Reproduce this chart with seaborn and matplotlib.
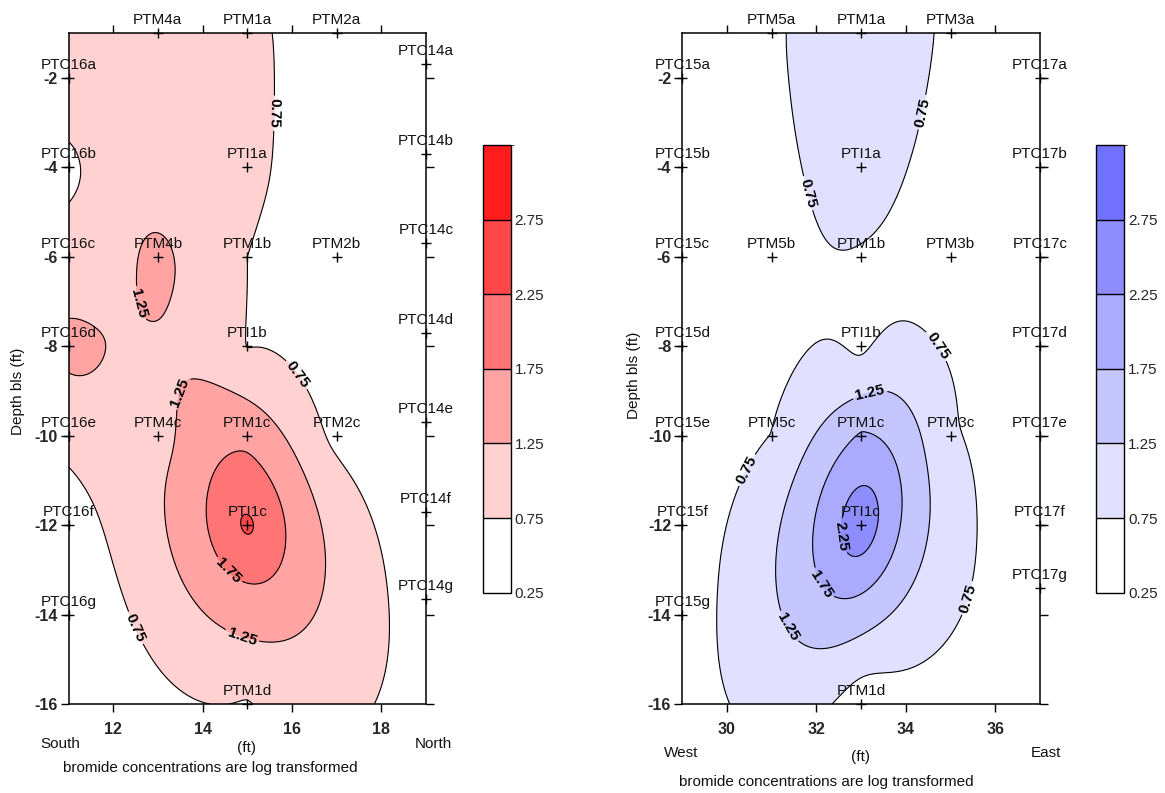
import numpy as np
import pandas as pd
import matplotlib
matplotlib.use("Agg")
import matplotlib.pyplot as plt
from matplotlib.colors import ListedColormap, BoundaryNorm
import seaborn as sns

# ---------------- data: log-transformed bromide at sampling ports ----------------
# South-North section
sn_names = ["PTC16a", "PTC16b", "PTC16c", "PTC16d", "PTC16e", "PTC16f", "PTC16g",
            "PTM4a", "PTM1a", "PTM2a", "PTI1a",
            "PTM4b", "PTM1b", "PTM2b", "PTI1b",
            "PTM4c", "PTM1c", "PTM2c", "PTI1c", "PTM1d",
            "PTC14a", "PTC14b", "PTC14c", "PTC14d", "PTC14e", "PTC14f", "PTC14g"]
sn_x = [11, 11, 11, 11, 11, 11, 11,
        13, 15, 17, 15,
        13, 15, 17, 15,
        13, 15, 17, 15, 15,
        19, 19, 19, 19, 19, 19, 19]
sn_y = [-2, -4, -6, -8, -10, -12, -14,
        -1, -1, -1, -4,
        -6, -6, -6, -8,
        -10, -10, -10, -12, -16,
        -1.7, -3.7, -5.7, -7.7, -9.7, -11.7, -13.65]
sn_logbr = [0.95, 0.66, 0.84, 1.42, 0.85, 0.55, 0.45,
            0.95, 0.85, 0.50, 0.85,
            1.36, 0.75, 0.50, 0.74,
            1.07, 1.64, 0.62, 2.35, 0.72,
            0.45, 0.45, 0.45, 0.45, 0.45, 0.48, 0.55]

# West-East section
we_names = ["PTC15a", "PTC15b", "PTC15c", "PTC15d", "PTC15e", "PTC15f", "PTC15g",
            "PTM5a", "PTM1a", "PTM3a", "PTI1a",
            "PTM5b", "PTM1b", "PTM3b", "PTI1b",
            "PTM5c", "PTM1c", "PTM3c", "PTI1c", "PTM1d",
            "PTC17a", "PTC17b", "PTC17c", "PTC17d", "PTC17e", "PTC17f", "PTC17g"]
we_x = [29, 29, 29, 29, 29, 29, 29,
        31, 33, 35, 33,
        31, 33, 35, 33,
        31, 33, 35, 33, 33,
        37, 37, 37, 37, 37, 37, 37]
we_y = [-2, -4, -6, -8, -10, -12, -14,
        -1, -1, -1, -4,
        -6, -6, -6, -8,
        -10, -10, -10, -12, -16,
        -2, -4, -6, -8, -10, -12, -13.4]
we_logbr = [0.45, 0.45, 0.40, 0.45, 0.50, 0.55, 0.55,
            0.72, 0.90, 0.70, 1.00,
            0.55, 0.72, 0.45, 0.65,
            0.76, 1.80, 0.82, 2.65, 0.45,
            0.40, 0.40, 0.40, 0.40, 0.40, 0.40, 0.60]

levels = [0.25, 0.75, 1.25, 1.75, 2.25, 2.75, 3.25]
line_levels = levels[1:-1]
cbar_ticks = levels[:-1]
red_bands = ["#FFFFFF", "#FFD1D1", "#FFA3A3", "#FF7575", "#FF4747", "#FF1C1C"]
blue_bands = ["#FFFFFF", "#E1E1FF", "#C6C6FF", "#AAAAFF", "#8D8DFF", "#7171FF"]

# contour label anchors and reading direction of near-vertical labels
sn_label_pos = [(15.9, -2.8), (12.8, -7.0), (16.3, -8.5), (13.55, -9.05),
                (14.6, -13.0), (14.9, -14.45), (12.5, -14.3)]
sn_label_dir = ["d", "d", None, "u", None, None, None]
we_label_pos = [(34.5, -2.8), (31.35, -4.7), (34.55, -8.1), (33.25, -9.25),
                (30.5, -10.8), (32.5, -12.25), (32.15, -13.3), (31.5, -14.2),
                (35.6, -13.7)]
we_label_dir = ["u", "d", None, None, "u", "d", None, None, "u"]


def krige_linear(px, py, pz, gx, gy, angle_deg, ratio):
    """Ordinary kriging (dual form) with an anisotropic linear variogram."""
    th = np.deg2rad(angle_deg)
    c, s = np.cos(th), np.sin(th)

    def dist(ax_, ay_, bx_, by_):
        dx = ax_[:, None] - bx_[None, :]
        dy = ay_[:, None] - by_[None, :]
        u = dx * c + dy * s
        v = -dx * s + dy * c
        return np.hypot(u / ratio, v)

    px = np.asarray(px, float)
    py = np.asarray(py, float)
    n = len(px)
    A = np.zeros((n + 1, n + 1))
    A[:n, :n] = dist(px, py, px, py)
    A[:n, n] = 1.0
    A[n, :n] = 1.0
    sol = np.linalg.solve(A, np.r_[np.asarray(pz, float), 0.0])
    dg = dist(gx.ravel(), gy.ravel(), px, py)
    return (dg @ sol[:n] + sol[n]).reshape(gx.shape)


sns.set_style("ticks")
plt.rcParams["font.family"] = ["Liberation Sans", "DejaVu Sans"]
plt.rcParams["axes.unicode_minus"] = False

W, H = 1165, 793
fig = plt.figure(figsize=(W / 100, H / 100), dpi=100)


def px2fig(x, y):
    return x / W, 1 - y / H


def draw_section(ax_rect, cax_rect, names, xs, ys, vals, xlim, xticks, colors,
                 label_pos, label_dir, aniso, side_words, side_px, ft_px,
                 note_px, ylab_px):
    ax = fig.add_axes(ax_rect)
    gx, gy = np.meshgrid(np.linspace(xlim[0], xlim[1], 241),
                         np.linspace(-16, -1, 451))
    gz = np.clip(krige_linear(xs, ys, vals, gx, gy, *aniso), 0.26, 3.24)

    cmap = ListedColormap(colors)
    norm = BoundaryNorm(levels, cmap.N)
    cf = ax.contourf(gx, gy, gz, levels=levels, cmap=cmap, norm=norm)
    cs = ax.contour(gx, gy, gz, levels=line_levels, colors="black", linewidths=0.8)
    ax.clabel(cs, fmt="%.2f", fontsize=11, inline=True, inline_spacing=3,
              manual=label_pos)
    for t, want in zip(cs.labelTexts, label_dir):
        t.set_fontweight("bold")
        r = (t.get_rotation() + 180) % 360 - 180
        if want == "d" and r > 75:
            r -= 180
        elif want == "u" and r < -75:
            r += 180
        t.set_rotation(r)

    df = pd.DataFrame({"x": xs, "y": ys, "port": names})
    sns.scatterplot(data=df, x="x", y="y", marker="+", s=62, color="black",
                    linewidth=1.0, ax=ax, legend=False, zorder=5)
    ax.collections[-1].set_clip_on(False)
    for n, x, y in zip(names, xs, ys):
        ax.annotate(n, (x, y), xytext=(0, 6.5), textcoords="offset points",
                    ha="center", va="baseline", fontsize=11, color="#111111",
                    annotation_clip=False, zorder=6)

    ax.set_xlim(*xlim)
    ax.set_ylim(-16, -1)
    ax.set_xticks(xticks)
    ax.set_yticks(np.arange(-16, -1, 2))
    ax.set_xlabel("")
    ax.set_ylabel("")
    ax.tick_params(axis="both", which="both", direction="out", length=6,
                   width=1.0, color="black", labelsize=11.5, pad=2,
                   top=True, right=True, labeltop=False, labelright=False)
    ax.tick_params(axis="x", pad=7)
    for lab in ax.get_xticklabels() + ax.get_yticklabels():
        lab.set_fontweight("bold")
    for sp in ax.spines.values():
        sp.set_visible(True)
        sp.set_linewidth(1.1)
        sp.set_color("black")

    # colour scale
    cax = fig.add_axes(cax_rect)
    cb = fig.colorbar(cf, cax=cax, ticks=cbar_ticks, drawedges=True)
    cb.ax.set_yticklabels([f"{v:.2f}" for v in cbar_ticks])
    cb.ax.tick_params(length=0, labelsize=11, pad=3)
    cb.outline.set_linewidth(1.0)
    cb.outline.set_edgecolor("black")
    cb.dividers.set_color("black")
    cb.dividers.set_linewidth(1.0)

    # annotations around the section
    for word, (px, py) in zip(side_words, side_px):
        fx, fy = px2fig(px, py)
        fig.text(fx, fy, word, ha="left", va="baseline", fontsize=11, color="#111111")
    fx, fy = px2fig(*ft_px)
    fig.text(fx, fy, "(ft)", ha="center", va="baseline", fontsize=11, color="#111111")
    fx, fy = px2fig(*note_px)
    fig.text(fx, fy, "bromide concentrations are log transformed", ha="center",
             va="baseline", fontsize=11, color="#111111")
    fx, fy = px2fig(*ylab_px)
    fig.text(fx, fy, "Depth bls (ft)", ha="center", va="center", rotation=90,
             fontsize=11, color="#111111")
    return ax


draw_section([68.5 / W, 1 - 704 / H, (426 - 68.5) / W, (704 - 33) / H],
             [482.5 / W, 1 - 592.7 / H, 28 / W, (592.7 - 145) / H],
             sn_names, sn_x, sn_y, sn_logbr, (11, 19), [12, 14, 16, 18],
             red_bands, sn_label_pos, sn_label_dir, (-80, 1.6),
             ["South", "North"], [(40, 748), (415, 748)],
             (247, 752), (210, 772), (18, 391))

draw_section([682.3 / W, 1 - 704 / H, (1040 - 682.3) / W, (704 - 33) / H],
             [1096 / W, 1 - 592.7 / H, 28 / W, (592.7 - 145) / H],
             we_names, we_x, we_y, we_logbr, (29, 37), [30, 32, 34, 36],
             blue_bands, we_label_pos, we_label_dir, (-100, 2.0),
             ["West", "East"], [(664, 757), (1031, 757)],
             (861, 761), (826, 786), (634, 375))

fig.savefig("out.png", dpi=100)
